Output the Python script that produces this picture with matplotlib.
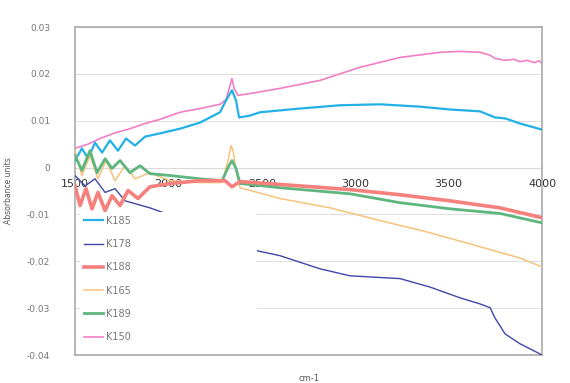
import numpy as np
import matplotlib.pyplot as plt

# wavenumber (cm-1) / absorbance pairs
wn_k185 = [1500, 1537, 1570, 1607, 1645, 1687, 1730, 1773, 1821, 1875, 1955, 2062, 2169, 2276,
           2308, 2340, 2362, 2378, 2437, 2490, 2704, 2919, 3133, 3347, 3507, 3668, 3748, 3802,
           3882, 4000]
k185 = [0.0015, 0.0041, 0.0019, 0.0053, 0.0032, 0.0058, 0.0036, 0.0062, 0.0047, 0.0066, 0.0073,
        0.0083, 0.0096, 0.0118, 0.0143, 0.0165, 0.0143, 0.0107, 0.0111, 0.0118, 0.0126, 0.0133,
        0.0135, 0.0130, 0.0124, 0.0120, 0.0107, 0.0105, 0.0094, 0.0081]

wn_k178 = [1500, 1554, 1607, 1661, 1714, 1768, 1821, 1901, 2169, 2480, 2597, 2811, 2972, 3240,
           3400, 3561, 3668, 3722, 3748, 3802, 3882, 4000]
k178 = [-0.0017, -0.0039, -0.0024, -0.0053, -0.0045, -0.0071, -0.0077, -0.0086, -0.0124, -0.0178,
        -0.0188, -0.0216, -0.0231, -0.0237, -0.0255, -0.0278, -0.0291, -0.0299, -0.0321, -0.0355,
        -0.0376, -0.0400]

wn_k188 = [1500, 1527, 1559, 1591, 1623, 1661, 1698, 1741, 1784, 1837, 1901, 2009, 2169, 2303,
           2340, 2383, 2597, 2972, 3240, 3507, 3775, 4000]
k188 = [-0.0039, -0.0081, -0.0045, -0.0088, -0.0053, -0.0092, -0.0060, -0.0081, -0.0049, -0.0066,
        -0.0041, -0.0034, -0.0028, -0.0028, -0.0041, -0.0030, -0.0036, -0.0047, -0.0058, -0.0071,
        -0.0086, -0.0107]

wn_k165 = [1500, 1537, 1580, 1623, 1666, 1714, 1768, 1821, 1901, 2009, 2169, 2287, 2319, 2335,
           2346, 2362, 2383, 2597, 2865, 3133, 3400, 3668, 3882, 4000]
k165 = [0.0036, -0.0017, 0.0026, -0.0024, 0.0015, -0.0028, 0.0004, -0.0024, -0.0011, -0.0028,
        -0.0032, -0.0032, 0.0015, 0.0047, 0.0036, -0.0006, -0.0043, -0.0066, -0.0086, -0.0113,
        -0.0139, -0.0169, -0.0193, -0.0212]

wn_k189 = [1500, 1537, 1580, 1618, 1661, 1698, 1741, 1794, 1848, 1901, 2009, 2169, 2287, 2324,
           2340, 2362, 2383, 2597, 2972, 3240, 3507, 3775, 4000]
k189 = [0.0026, -0.0006, 0.0036, -0.0011, 0.0019, -0.0002, 0.0015, -0.0011, 0.0004, -0.0013,
        -0.0017, -0.0024, -0.0028, 0.0004, 0.0015, -0.0002, -0.0034, -0.0043, -0.0056, -0.0075,
        -0.0088, -0.0098, -0.0118]

wn_k150 = [1500, 1570, 1634, 1714, 1794, 1875, 1955, 2062, 2169, 2276, 2308, 2330, 2340, 2352,
           2372, 2437, 2597, 2811, 3025, 3239, 3454, 3561, 3668, 3720, 3748, 3800, 3850, 3882,
           3920, 3960, 3985, 4000]
k150 = [0.0041, 0.0050, 0.0062, 0.0074, 0.0083, 0.0094, 0.0103, 0.0118, 0.0126, 0.0135, 0.0145,
        0.0175, 0.0190, 0.0168, 0.0154, 0.0158, 0.0169, 0.0186, 0.0214, 0.0235, 0.0246, 0.0248,
        0.0246, 0.0240, 0.0233, 0.0229, 0.0231, 0.0226, 0.0229, 0.0224, 0.0228, 0.0222]

x_ticks = [1500, 2000, 2500, 3000, 3500, 4000]
y_ticks = [-0.04, -0.03, -0.02, -0.01, 0, 0.01, 0.02, 0.03]
y_ticklabels = ['-0.04', '-0.03', '-0.02', '-0.01', '0', '0.01', '0.02', '0.03']

fig = plt.figure(figsize=(5.7, 3.83), dpi=100)
ax = fig.add_axes([0.1316, 0.0731, 0.8194, 0.8564])

# draw order: background lines first, thick red last
ax.plot(wn_k150, k150, color='#f27ec4', lw=1.2, label='K150', zorder=2)
ax.plot(wn_k185, k185, color='#21b1e6', lw=1.6, label='K185', zorder=3)
ax.plot(wn_k178, k178, color='#4146a8', lw=1.0, label='K178', zorder=3)
ax.plot(wn_k165, k165, color='#f7c27c', lw=1.1, label='K165', zorder=3)
ax.plot(wn_k189, k189, color='#5db67d', lw=2.0, label='K189', zorder=4)
ax.plot(wn_k188, k188, color='#f5807c', lw=2.6, label='K188', zorder=5)

ax.set_xlim(1500, 4000)
ax.set_ylim(-0.04, 0.03)
ax.set_yticks(y_ticks)
ax.set_yticklabels(y_ticklabels)
ax.tick_params(axis='y', length=0, labelsize=6.5, labelcolor='#777777', pad=18)
ax.set_xticks([])
ax.grid(axis='y', color='#dddddd', lw=0.7)
ax.set_axisbelow(True)
for s in ax.spines.values():
    s.set_color('#aaaaaa')
    s.set_linewidth(1.2)

# x axis crossing at zero, labels hanging below it
zero_pos = (0 - (-0.04)) / 0.07
sec = ax.secondary_xaxis(zero_pos)
sec.set_alignment('bottom')
sec.set_xticks(x_ticks)
sec.tick_params(length=0, labelsize=8, labelcolor='#333333', pad=8)
sec.spines['bottom'].set_color('#bbbbbb')
sec.spines['bottom'].set_linewidth(0.8)

ax.set_ylabel('Absorbance units', fontsize=5.5, color='#555555', labelpad=10)
ax.set_xlabel('cm-1', fontsize=6, color='#555555', labelpad=14)

order = ['K185', 'K178', 'K188', 'K165', 'K189', 'K150']
handles, labels = ax.get_legend_handles_labels()
lookup = dict(zip(labels, handles))
leg = ax.legend([lookup[k] for k in order], order, loc='upper left',
                bbox_to_anchor=(0.01, 0.0, 0.38, 0.436), mode='expand',
                frameon=True, facecolor='white', edgecolor='none', framealpha=1,
                fontsize=7, labelspacing=1.36, handlelength=2.0, handletextpad=0.3,
                borderaxespad=0.0)
for t in leg.get_texts():
    t.set_color('#777777')
leg.set_zorder(10)

fig.savefig('out.png', dpi=100)
